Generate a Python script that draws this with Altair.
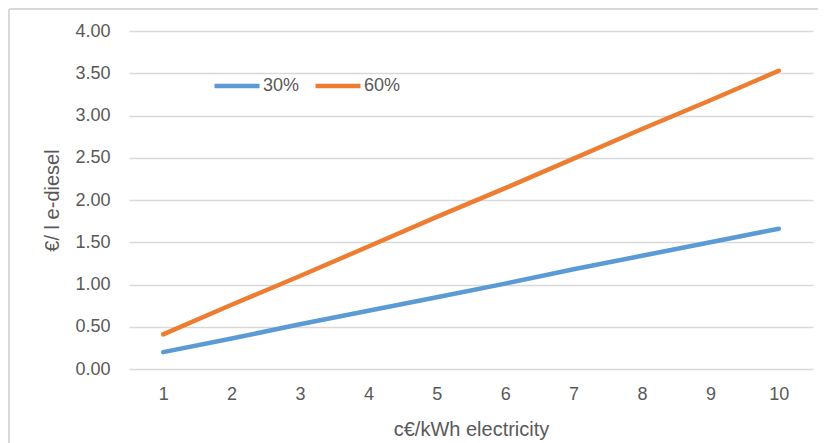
import altair as alt
import pandas as pd

x_vals = [1, 2, 3, 4, 5, 6, 7, 8, 9, 10]
s30 = [0.20, 0.36, 0.53, 0.69, 0.85, 1.01, 1.18, 1.34, 1.50, 1.66]
s60 = [0.41, 0.76, 1.10, 1.45, 1.80, 2.14, 2.49, 2.84, 3.18, 3.53]
series_names = ["30%", "60%"]
colors = ["#5B9BD5", "#ED7D31"]
y_ticks = [0, 0.5, 1, 1.5, 2, 2.5, 3, 3.5, 4]

rows = []
for xv, a, b in zip(x_vals, s30, s60):
    rows.append({"x": xv, "y": a, "s": series_names[0]})
    rows.append({"x": xv, "y": b, "s": series_names[1]})
df = pd.DataFrame(rows)

FONT = "Liberation Sans"
TXT = "#595959"

lines = alt.Chart(df).mark_line(strokeWidth=4.5, strokeCap="round").encode(
    x=alt.X("x:Q", scale=alt.Scale(domain=[0.5, 10.5], nice=False, zero=False),
            axis=alt.Axis(values=x_vals, title="c€/kWh electricity", grid=False, domain=False,
                          ticks=False, labelPadding=16, titlePadding=16, format="d")),
    y=alt.Y("y:Q", scale=alt.Scale(domain=[0, 4], nice=False),
            axis=alt.Axis(values=y_ticks, format=".2f", title="€/ l e-diesel", domain=False,
                          ticks=False, labelPadding=19, titlePadding=12, gridColor="#D9D9D9",
                          gridWidth=1.3)),
    color=alt.Color("s:N", scale=alt.Scale(domain=series_names, range=colors),
                    legend=alt.Legend(title=None, orient="none", legendX=83, legendY=30,
                                      direction="horizontal", symbolType="stroke",
                                      symbolSize=2025, symbolStrokeWidth=4.5,
                                      labelFontSize=18, labelColor=TXT, labelFont=FONT,
                                      labelOffset=1, columnPadding=6)),
)

frame_left = alt.Chart(df).mark_rule(color="#D9D9D9", strokeWidth=1.5).encode(
    x=alt.value(-120), y=alt.value(-22), y2=alt.value(440))
frame_top = alt.Chart(df).mark_rule(color="#D9D9D9", strokeWidth=1.5).encode(
    x=alt.value(-120), x2=alt.value(720), y=alt.value(-22))

chart = alt.layer(lines, frame_left, frame_top).properties(
    width=684, height=338,
    autosize=alt.AutoSizeParams(type="none"),
    padding={"left": 121, "top": 23, "right": 5, "bottom": 90},
).configure_view(stroke=None).configure_axis(
    labelFont=FONT, titleFont=FONT, labelFontSize=18, titleFontSize=20,
    labelColor=TXT, titleColor=TXT, titleFontWeight="normal",
)

chart.save("out.html", embed_options={"renderer": "svg", "actions": False})
